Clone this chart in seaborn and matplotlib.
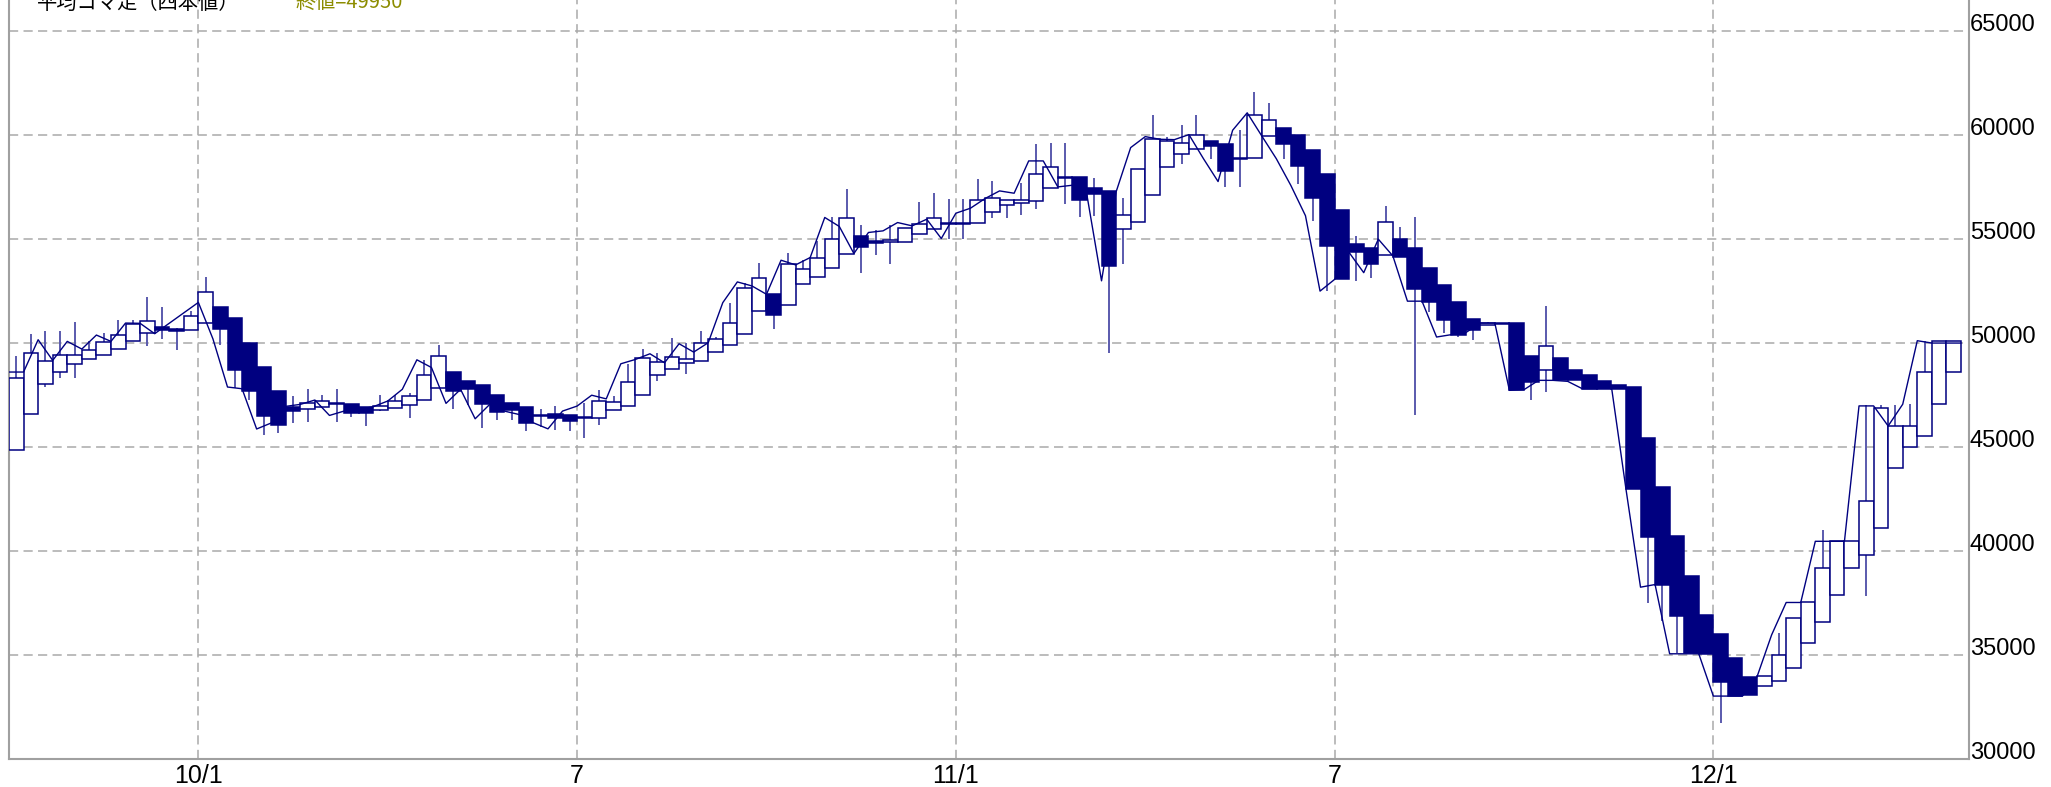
import numpy as np
import matplotlib
matplotlib.use("Agg")
import matplotlib.pyplot as plt
import seaborn as sns

# ---------------- data (weekly Heikin-Ashi candles) ----------------
ha_open = [44870, 46602, 48044, 48589, 48990, 49230, 49439, 49711, 50080, 50481,
           50753, 50697, 50641, 50962, 51715, 51202, 50000, 48830, 47676, 46922,
           46806, 46935, 47072, 47080, 46919, 46766, 46855, 47016, 47258, 47855,
           48613, 48177, 47984, 47500, 47097, 46935, 46548, 46564, 46516, 46379,
           46398, 46799, 46960, 47523, 48439, 48729, 49050, 49131, 49565, 49886,
           50417, 51543, 52347, 51832, 52829, 53183, 53633, 54309, 55161, 54918,
           54862, 54886, 55239, 55512, 55760, 55780, 55800, 56329, 56650, 56762,
           56842, 57451, 57996, 57996, 57451, 57323, 55512, 55848, 57115, 58468,
           59081, 59355, 59710, 59597, 58928, 58903, 59968, 60355, 60000, 59274,
           58145, 56419, 54758, 54597, 54226, 55000, 54564, 53629, 52790, 51968,
           51154, 50880, 50930, 50962, 49359, 48718, 49279, 48718, 48477, 48157,
           47964, 47884, 45431, 43059, 40703, 38811, 36935, 36002, 34859, 33910,
           33492, 33749, 34376, 35583, 36565, 37852, 39171, 39815, 41102, 43998,
           45012, 45527, 47055, 48616]
ha_close = [48317, 49519, 49150, 49407, 49439, 49679, 50032, 50400, 50914, 51042,
            50641, 50561, 51282, 52452, 50673, 48718, 47676, 46473, 46073, 46714,
            47097, 47210, 47120, 46645, 46613, 46968, 47226, 47451, 48451, 49355,
            47693, 47774, 47048, 46677, 46774, 46161, 46480, 46403, 46242, 46446,
            47201, 47153, 48118, 49292, 49082, 49340, 49243, 49983, 50208, 50980,
            52636, 53151, 51334, 53826, 53553, 54116, 55000, 55997, 54646, 54806,
            54967, 55560, 55720, 56008, 55720, 55720, 56890, 56970, 56874, 56890,
            58124, 58477, 57964, 56906, 57163, 53716, 56169, 58365, 59808, 59727,
            59629, 60032, 59468, 58258, 58880, 61000, 60726, 59597, 58516, 56968,
            54677, 53064, 54387, 53790, 55806, 54161, 52613, 51968, 51129, 50401,
            50609, 50960, 50962, 47724, 48108, 49840, 48205, 48205, 47804, 47804,
            47804, 42979, 40671, 38378, 36887, 35092, 35020, 33701, 33009, 33057,
            33990, 34988, 36758, 37530, 39171, 40459, 40459, 42389, 46895, 46010,
            46010, 48616, 50113, 50113]
ha_high = [49390, 50449, 50593, 50593, 51026, 50112, 50481, 51122, 51122, 52196,
           51715, 50721, 51523, 53174, 51715, 51202, 50000, 48830, 47676, 47435,
           47774, 47484, 47800, 47080, 46919, 47484, 47500, 47600, 49194, 49903,
           48613, 48177, 47984, 47500, 47097, 46935, 46806, 46968, 46516, 47097,
           47764, 47443, 49002, 49694, 49500, 50257, 50016, 50578, 50300, 51945,
           52900, 53842, 52347, 54325, 54000, 54920, 56045, 57412, 55675, 55450,
           55700, 55560, 56794, 57211, 56954, 56954, 57884, 57804, 56874, 57700,
           59567, 59647, 59647, 57996, 57964, 57323, 57002, 58365, 60978, 59900,
           60516, 61000, 59710, 59597, 60242, 62097, 61532, 60355, 60000, 59274,
           58145, 56419, 55161, 54597, 56613, 55564, 56048, 53629, 52790, 51968,
           51154, 50994, 50962, 50962, 49359, 51795, 49279, 48718, 48477, 48157,
           47964, 47884, 45431, 43059, 40703, 38811, 36935, 36002, 34859, 33910,
           33990, 36034, 36758, 37530, 41022, 40459, 40459, 47007, 47007, 47007,
           47055, 50113, 50113, 50113]
ha_low = [44870, 46602, 47868, 48317, 48317, 49230, 49439, 49711, 50080, 49872,
          50208, 49680, 50641, 50962, 49920, 47836, 47275, 45592, 45672, 46153,
          46193, 46935, 46220, 46435, 46000, 46726, 46855, 46403, 47258, 47855,
          46806, 47000, 45919, 46300, 46300, 45758, 45950, 45838, 45758, 45432,
          46076, 46799, 46960, 47523, 48166, 48729, 48488, 49131, 49565, 49886,
          50417, 51543, 50659, 51832, 52829, 53183, 53633, 54309, 53392, 54229,
          53796, 54886, 55239, 55512, 55000, 55000, 55800, 56040, 56040, 56153,
          56473, 57451, 56700, 56089, 56100, 49500, 53796, 55848, 57115, 58468,
          58597, 59355, 58871, 57500, 57500, 58903, 59968, 58871, 57661, 55887,
          52500, 53064, 52984, 53145, 54226, 54161, 46532, 51500, 50484, 50300,
          50160, 50880, 50930, 47724, 47275, 47628, 48205, 48205, 47804, 47804,
          47804, 42979, 37497, 36600, 35092, 35092, 35020, 31690, 33009, 33057,
          33492, 33749, 34376, 35583, 36565, 37852, 39171, 37803, 41102, 43998,
          45012, 45527, 47055, 48616]
# thin line drawn at candle boundaries (135 points)
close_line = [48605, 48605, 50160, 49166, 50080, 49711, 50385, 50080, 50962, 50950,
              50450, 50950, 51450, 51956, 50200, 47884, 47800, 45864, 46153, 46954,
              47048, 47258, 46516, 46726, 46806, 46935, 47210, 47774, 49194, 48823,
              47097, 47774, 46355, 47048, 46726, 46564, 46161, 45871, 46726, 46968,
              47490, 47314, 49002, 49211, 49484, 49050, 49967, 49565, 50016, 51945,
              52942, 52749, 52347, 53987, 53762, 54116, 56045, 55611, 54309, 55322,
              55400, 55800, 55640, 55960, 55031, 56249, 56489, 56954, 57323, 57211,
              58766, 58766, 57515, 57596, 57115, 52995, 57275, 59407, 59936, 59808,
              59790, 60032, 58871, 57774, 60242, 61081, 59968, 58871, 57581, 56129,
              52500, 53064, 54355, 53387, 55000, 54193, 52016, 52016, 50290, 50403,
              50500, 50962, 50962, 47724, 47756, 48205, 48205, 48157, 47804, 47804,
              47916, 42979, 38250, 38378, 35044, 35044, 35044, 33009, 33009, 33009,
              33942, 35954, 37514, 37514, 40459, 40459, 40459, 46975, 46975, 46010,
              47055, 50113, 50000, 50000, 50000]
tick_candle = [13, 39, 65, 91, 117]
tick_labels = ["10/1", "7", "11/1", "7", "12/1"]
y_ticks = [30000, 35000, 40000, 45000, 50000, 55000, 60000, 65000]
title_left = "平均コマ足（四本値）"
title_right = "終値=49950"

# ---------------- styling ----------------
sns.set_style("white")
plt.rcParams['font.family'] = ['Liberation Sans', 'Noto Sans CJK JP', 'DejaVu Sans']

W, H = 2051, 787
fig = plt.figure(figsize=(W / 100, H / 100), dpi=100)
ax = fig.add_axes([9 / W, (H - 758.6) / H, (1969 - 9) / W, 758.6 / H])

NAVY = "#000080"
WICK = "#5a5aad"
GRID = "#a9a9a9"

n = len(ha_open)
xs = np.arange(n)
o = np.array(ha_open, float)
c = np.array(ha_close, float)
hi = np.array(ha_high, float)
lo = np.array(ha_low, float)

# wicks
ax.vlines(xs, lo, hi, color=WICK, lw=1.4, zorder=2)
# bodies
bottoms = np.minimum(o, c)
heights = np.abs(c - o)
fills = np.where(c >= o, "white", NAVY)
ax.bar(xs, heights, bottom=bottoms, width=1.0, color=fills,
       edgecolor=NAVY, linewidth=1.1, zorder=3)

# thin line
lx = np.arange(len(close_line)) - 0.5
sns.lineplot(x=lx, y=close_line, ax=ax, color=NAVY, lw=1.0,
             estimator=None, sort=False, zorder=4)

ax.set_xlim(-0.5, 134.05)
ax.set_ylim(30000, 66511)

# grid / ticks
ax.set_xticks([t - 0.5 for t in tick_candle])
ax.set_xticklabels(tick_labels, fontsize=18)
ax.set_yticks(y_ticks)
ax.set_yticklabels([str(v) for v in y_ticks], fontsize=17)
ax.yaxis.tick_right()
for lab in ax.get_yticklabels():
    lab.set_va("baseline")
ax.tick_params(axis="both", length=0, colors="black")
ax.tick_params(axis="y", pad=0.5)
ax.tick_params(axis="x", pad=4)
ax.grid(True, axis="both", color=GRID, lw=1.1, linestyle=(0, (6, 3.5)), zorder=0)
ax.set_axisbelow(True)

for s in ["left", "bottom", "right"]:
    ax.spines[s].set_color("#a0a0a0")
    ax.spines[s].set_linewidth(1.5)
ax.spines["top"].set_visible(False)
ax.set_xlabel("")
ax.set_ylabel("")
if ax.get_legend():
    ax.get_legend().remove()

# title texts (partly cut by the top edge, as in the original)
fig.text(37 / W, 1 - 8.5 / H, title_left, fontsize=14.6, color="black",
         va="baseline", ha="left", family=['Noto Sans CJK JP', 'DejaVu Sans'])
fig.text(295 / W, 1 - 7.5 / H, title_right, fontsize=14.5, color="#8c8c00",
         va="baseline", ha="left", family=['Noto Sans CJK JP', 'DejaVu Sans'])

fig.savefig("out.png", dpi=100)
